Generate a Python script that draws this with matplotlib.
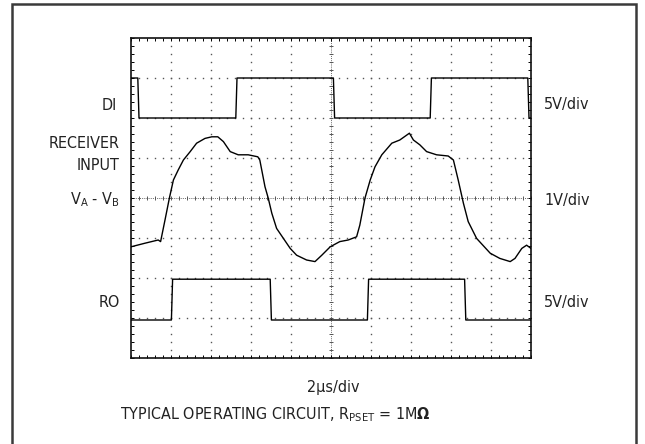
import numpy as np
import matplotlib
matplotlib.use("Agg")
import matplotlib.pyplot as plt
from matplotlib.patches import Rectangle

plt.rcParams['font.family'] = ['DejaVu Sans']
plt.rcParams['font.stretch'] = 'condensed'
plt.rcParams['mathtext.fontset'] = 'custom'
plt.rcParams['mathtext.rm'] = 'DejaVu Sans:stretch=condensed'
plt.rcParams['mathtext.it'] = 'DejaVu Sans:stretch=condensed'
plt.rcParams['mathtext.bf'] = 'DejaVu Sans:bold'

# scope settings
us_per_div = 2.0
n_xdiv, n_ydiv = 10, 8

# DI: transmitter input, 5V/div, starts high
di_edges_us = [0.34, 5.24, 10.12, 14.96, 19.84]
di_levels_v = [5.0, 0.0]          # high, low
di_offset_div = 2.0

# RO: receiver output, 5V/div, starts low
ro_edges_us = [2.02, 6.96, 11.82, 16.68]
ro_levels_v = [5.1, 0.0]
ro_offset_div = -3.05

# receiver input VA - VB, 1V/div
rx_t_us = [0.0, 0.70, 1.36, 1.48, 1.70, 1.92, 2.12, 2.36, 2.62, 2.96,
           3.28, 3.70, 4.04, 4.34, 4.62, 4.96, 5.36, 5.86, 6.34, 6.44,
           6.70, 6.86, 7.04, 7.28, 7.62, 7.96, 8.28, 8.78, 9.20, 9.54,
           9.96, 10.44, 10.86, 11.28, 11.44, 11.70, 11.96, 12.20, 12.54, 13.04,
           13.44, 13.92, 14.12, 14.44, 14.78, 15.28, 15.86, 16.12, 16.36, 16.62,
           16.86, 17.28, 17.96, 18.44, 18.96, 19.20, 19.54, 19.78, 20.0]
rx_v = [-1.22, -1.13, -1.05, -1.09, -0.55, 0.0, 0.45, 0.70, 0.95, 1.16,
        1.37, 1.49, 1.53, 1.53, 1.41, 1.16, 1.08, 1.08, 1.03, 0.95,
        0.28, 0.0, -0.38, -0.76, -1.01, -1.26, -1.43, -1.55, -1.59, -1.43,
        -1.22, -1.09, -1.05, -0.97, -0.68, 0.0, 0.45, 0.78, 1.08, 1.37,
        1.45, 1.62, 1.45, 1.33, 1.16, 1.08, 1.05, 0.95, 0.45, -0.13,
        -0.59, -1.01, -1.38, -1.51, -1.59, -1.51, -1.26, -1.18, -1.26]


def square_wave(edges, levels, start_high, t_end):
    # build a step trace from edge times
    t = [0.0]
    state = start_high
    v = [levels[0] if state else levels[1]]
    for e in edges:
        t += [e, e + 0.06]
        v += [v[-1], levels[1] if state else levels[0]]
        state = not state
    t.append(t_end)
    v.append(v[-1])
    return np.array(t), np.array(v)


t_end = us_per_div * n_xdiv

fig = plt.figure(figsize=(6.45, 4.44), dpi=100)
fig.patches.append(Rectangle((11.5 / 645, -0.1), 624.5 / 645, 1.1 - 4.5 / 444,
                             transform=fig.transFigure, fill=False,
                             edgecolor='#3a3a3a', linewidth=1.8))

ax = fig.add_axes([131 / 645, 86 / 444, 400 / 645, 320 / 444])
ax.set_xlim(0, n_xdiv)
ax.set_ylim(-n_ydiv / 2, n_ydiv / 2)

# graticule: dotted lines with a dot every fifth of a division
minor = np.arange(0, n_xdiv + 0.01, 0.2)
minor_y = np.arange(-n_ydiv / 2, n_ydiv / 2 + 0.01, 0.2)
for k in range(1, n_xdiv):
    if k == n_xdiv // 2:
        continue
    ax.plot(np.full_like(minor_y, k), minor_y, ls='none', marker='s',
            ms=1.0, mew=0, color='#555555', zorder=1)
for k in range(-n_ydiv // 2 + 1, n_ydiv // 2):
    if k == 0:
        continue
    ax.plot(minor, np.full_like(minor, k), ls='none', marker='s',
            ms=1.0, mew=0, color='#555555', zorder=1)

# centre axes with small cross ticks
ax.axhline(0, color='#666666', lw=0.7, ls=(0, (1, 1.2)), zorder=1)
ax.axvline(n_xdiv / 2, color='#666666', lw=0.7, ls=(0, (1, 1.2)), zorder=1)
ax.plot(minor, np.zeros_like(minor), ls='none', marker='|', ms=3.5,
        mew=0.7, color='#555555', zorder=1)
ax.plot(np.full_like(minor_y, n_xdiv / 2), minor_y, ls='none', marker='_',
        ms=3.5, mew=0.7, color='#555555', zorder=1)

ax.set_xticks(np.arange(0, n_xdiv + 0.01, 1))
ax.set_yticks(np.arange(-n_ydiv / 2, n_ydiv / 2 + 0.01, 1))
ax.set_xticks(minor, minor=True)
ax.set_yticks(minor_y, minor=True)
ax.tick_params(which='both', direction='in', length=2.5, width=0.7,
               top=True, right=True, labelbottom=False, labelleft=False)
for s in ax.spines.values():
    s.set_linewidth(1.2)
    s.set_color('#111111')

# traces
t, v = square_wave(di_edges_us, di_levels_v, True, t_end)
ax.plot(t / us_per_div, di_offset_div + v / 5.0, color='black', lw=1.0, zorder=3)

t, v = square_wave(ro_edges_us, ro_levels_v, False, t_end)
ax.plot(t / us_per_div, ro_offset_div + v / 5.0, color='black', lw=1.0, zorder=3)

ax.plot(np.array(rx_t_us) / us_per_div, np.array(rx_v) / 1.0,
        color='black', lw=1.0, zorder=3)

# channel labels
fs = 11.5
def fig_text(x, y, s, **kw):
    fig.text(x / 645, 1 - y / 444, s, fontsize=fs, color='#222222',
             va='center', stretch='condensed', **kw)

fig_text(117, 105, 'DI', ha='right')
fig_text(120, 143, 'RECEIVER', ha='right')
fig_text(120, 166, 'INPUT', ha='right')
fig_text(120, 200, r'V$_{\rm A}$ - V$_{\rm B}$', ha='right')
fig_text(120, 302, 'RO', ha='right')

fig_text(544, 104, '5V/div', ha='left')
fig_text(544, 200, '1V/div', ha='left')
fig_text(544, 302, '5V/div', ha='left')

fig_text(333, 387, '2µs/div', ha='center')
fig_text(120, 415, r'TYPICAL OPERATING CIRCUIT, R$_{\rm PSET}$ = 1M$\mathbf{\Omega}$',
         ha='left')

fig.savefig('out.png', dpi=100)
